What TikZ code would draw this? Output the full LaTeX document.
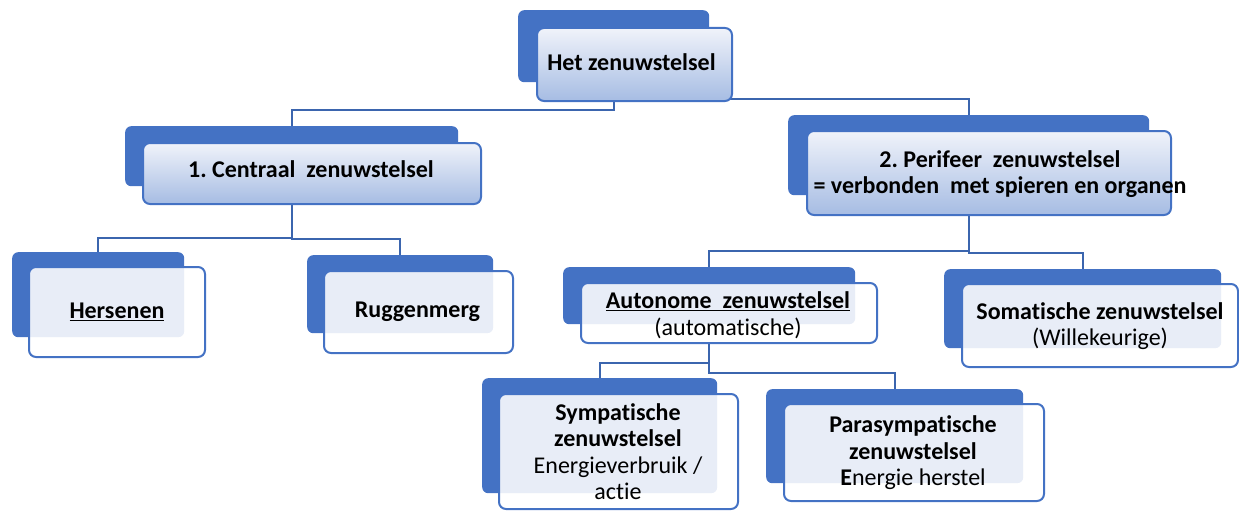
\documentclass[tikz,border=0pt]{standalone}
\usepackage{fontspec}
\setmainfont{Carlito}[Ligatures={NoCommon}]
\frenchspacing
\usetikzlibrary{backgrounds}
\definecolor{boxblue}{HTML}{4472C4}
\definecolor{linkblue}{HTML}{3B65AE}
\definecolor{shadetop}{RGB}{240,243,250}
\definecolor{shadebot}{RGB}{166,188,227}

\begin{document}
\begin{tikzpicture}[x=1pt,y=-1pt,
  backbox/.style={rectangle, rounded corners=6pt, fill=boxblue, inner sep=0pt, anchor=north west},
  frontbox/.style={rectangle, rounded corners=7pt, draw=boxblue, line width=2pt, inner sep=0pt, anchor=north west},
  topbox/.style={frontbox, top color=shadetop, bottom color=shadebot},
  subbox/.style={frontbox, fill=white, fill opacity=0.88},
  caption/.style={inner sep=0pt, align=center, font=\fontsize{24}{26.5}\selectfont,
    execute at begin node=\strut, execute at end node=\strut},
  link/.style={draw=linkblue, line width=2pt}
]
\useasboundingbox (0,0) rectangle (1239,511);

% back plates
\node[backbox, minimum width=191pt, minimum height=72pt] (het-b) at (518,10) {};
\node[backbox, minimum width=333pt, minimum height=60pt] (cen-b) at (125,126) {};
\node[backbox, minimum width=361pt, minimum height=80pt] (per-b) at (788,115) {};
\node[backbox, minimum width=172pt, minimum height=85pt] (her-b) at (12,252) {};
\node[backbox, minimum width=186pt, minimum height=78pt] (rug-b) at (307,255) {};
\node[backbox, minimum width=292pt, minimum height=57pt] (aut-b) at (563,267) {};
\node[backbox, minimum width=277pt, minimum height=79pt] (som-b) at (944,269) {};
\node[backbox, minimum width=235pt, minimum height=115pt] (sym-b) at (482,378) {};
\node[backbox, minimum width=257pt, minimum height=94pt] (par-b) at (766,389) {};

% front panels
\node[topbox, minimum width=195pt, minimum height=73pt] (het) at (536,27) {};
\node[topbox, minimum width=338pt, minimum height=61pt] (cen) at (142,142) {};
\node[topbox, minimum width=364pt, minimum height=84pt] (per) at (806,130) {};
\node[subbox, minimum width=176pt, minimum height=90pt] (her) at (28,266) {};
\node[subbox, minimum width=189pt, minimum height=82pt] (rug) at (323,270) {};
\node[subbox, minimum width=296pt, minimum height=60pt] (aut) at (580,282) {};
\node[subbox, minimum width=276pt, minimum height=83pt] (som) at (961,283) {};
\node[subbox, minimum width=239pt, minimum height=115pt] (sym) at (498,393) {};
\node[subbox, minimum width=260pt, minimum height=97pt] (par) at (783,403) {};

% texts
\node[caption] (het-t) at (631.5,65.3) {\textbf{Het zenuwstelsel}};
\node[caption] (cen-t) at (311,172.6) {\textbf{1. Centraal\ \ zenuwstelsel}};
\node[caption] (per-t) at (1000,176.1) {\textbf{2. Perifeer\ \ zenuwstelsel}\\\textbf{= verbonden\ \ met spieren en organen}};
\node[caption] (her-t) at (117,313.2) {\textbf{\underline{Hersenen}}};
\node[caption] (rug-t) at (417.5,312.2) {\textbf{Ruggenmerg}};
\node[caption] (aut-t) at (728,317.6) {\textbf{\underline{Autonome\ \ zenuwstelsel}}\\(automatische)};
\node[caption] (som-t) at (1100,328) {\textbf{Somatische zenuwstelsel}\\(Willekeurige)};
\node[caption] (sym-t) at (618,455.6) {\textbf{Sympatische}\\\textbf{zenuwstelsel}\\Energieverbruik /\\actie};
\node[caption] (par-t) at (913,454.6) {\textbf{Parasympatische}\\\textbf{zenuwstelsel}\\\textbf{E}nergie herstel};

% bus levels of the connectors
\coordinate (bus-het-l) at (0,110);
\coordinate (bus-het-r) at (0,99);
\coordinate (bus-cen-l) at (0,238);
\coordinate (bus-cen-r) at (0,239);
\coordinate (bus-per-l) at (0,251);
\coordinate (bus-per-r) at (0,253);
\coordinate (bus-aut-l) at (0,363);
\coordinate (bus-aut-r) at (0,373);

\begin{pgfonlayer}{background}
  \draw[link] (het-b.south |- het.south) -- (het-b.south |- bus-het-l) -| (cen-b.north);
  \draw[link] (het-b.south |- het.south) -- (het-b.south |- bus-het-r) -| (per-b.north);
  \draw[link] (cen-b.south |- cen.south) -- (cen-b.south |- bus-cen-l) -| (her-b.north);
  \draw[link] (cen-b.south |- cen.south) -- (cen-b.south |- bus-cen-r) -| (rug-b.north);
  \draw[link] (per-b.south |- per.south) -- (per-b.south |- bus-per-l) -| (aut-b.north);
  \draw[link] (per-b.south |- per.south) -- (per-b.south |- bus-per-r) -| (som-b.north);
  \draw[link] (aut-b.south |- aut.south) -- (aut-b.south |- bus-aut-l) -| (sym-b.north);
  \draw[link] (aut-b.south |- aut.south) -- (aut-b.south |- bus-aut-r) -| (par-b.north);
\end{pgfonlayer}
\end{tikzpicture}
\end{document}
